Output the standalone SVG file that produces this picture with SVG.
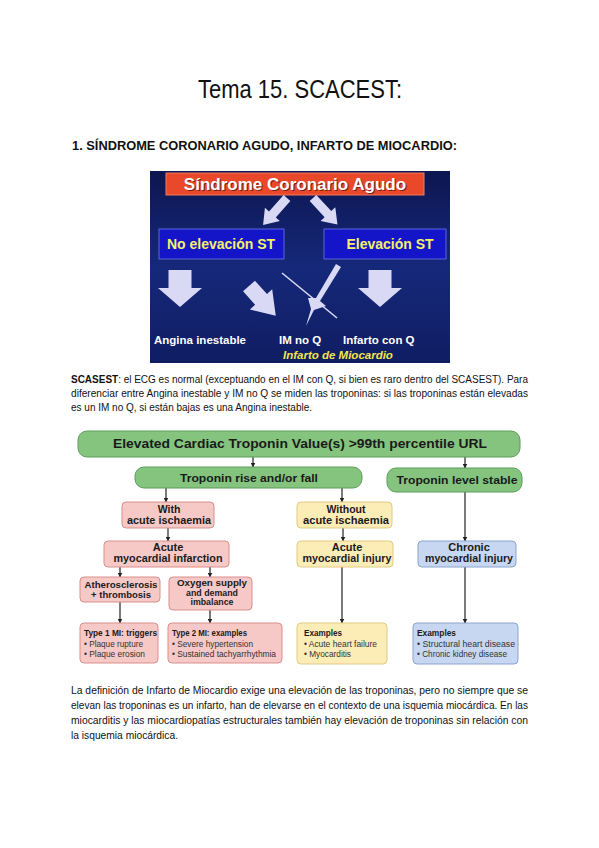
<svg xmlns="http://www.w3.org/2000/svg" width="599" height="848" viewBox="0 0 599 848">
<defs>
<style>
.body{font-family:"Liberation Sans",Arial,sans-serif;font-size:10px;fill:#111}
.fc{font-family:"Liberation Sans",Arial,sans-serif;font-weight:bold;fill:#1a1a1a;text-anchor:middle}
.ex{font-family:"Liberation Sans",Arial,sans-serif;font-size:8.5px;fill:#333}
.exb{font-weight:bold;fill:#1a1a1a}
.green{fill:#84c47e;stroke:#5c9d5a;stroke-width:1}
.pink{fill:#f6c8c6;stroke:#d98f8c;stroke-width:1}
.yel{fill:#fcecb6;stroke:#e0cb84;stroke-width:1}
.blu{fill:#c8d7f1;stroke:#8ba4cd;stroke-width:1}
.con{stroke:#222;stroke-width:1.2;fill:none}
.bl{fill:#1414c8;stroke:#5a66d8;stroke-width:1}
.bt{font-family:"Liberation Sans",Arial,sans-serif;font-weight:bold}
.arr{fill:#d9d9f6}
</style>
<marker id="ah" viewBox="0 0 10 10" refX="9" refY="5" markerWidth="5" markerHeight="5" orient="auto" markerUnits="userSpaceOnUse">
<path d="M0,0 L10,5 L0,10 z" fill="#222"/>
</marker>
<linearGradient id="bg" x1="0" y1="0" x2="0" y2="1">
<stop offset="0" stop-color="#0c1650"/>
<stop offset="0.5" stop-color="#16287a"/>
<stop offset="1" stop-color="#0f1d62"/>
</linearGradient>
</defs>
<rect width="599" height="848" fill="#fff"/>

<text x="198" y="98" font-family="Liberation Sans,Arial,sans-serif" font-size="25" fill="#111" textLength="204" lengthAdjust="spacingAndGlyphs">Tema 15. SCACEST:</text>
<text x="72" y="150" font-family="Liberation Sans,Arial,sans-serif" font-size="12.5" font-weight="bold" fill="#111" textLength="385" lengthAdjust="spacingAndGlyphs">1. SÍNDROME CORONARIO AGUDO, INFARTO DE MIOCARDIO:</text>

<g id="sca-image">
<rect x="150" y="171" width="300" height="192" fill="url(#bg)"/>
<rect x="166" y="173" width="258" height="22" fill="#e9482b" stroke="#f27a5e" stroke-width="1"/>
<text class="bt" x="296" y="191" font-size="17" fill="#000" opacity="0.5" text-anchor="middle">Síndrome Coronario Agudo</text>
<text class="bt" x="295" y="190" font-size="17" fill="#fff" text-anchor="middle">Síndrome Coronario Agudo</text>
<polygon class="arr" transform="translate(287,198) rotate(41.6)" points="-4.5,0 4.5,0 4.5,22 10,22 0,36 -10,22 -4.5,22"/>
<polygon class="arr" transform="translate(313,198) rotate(-42.8)" points="-4.5,0 4.5,0 4.5,22 10,22 0,36 -10,22 -4.5,22"/>
<rect class="bl" x="159" y="229" width="125" height="30"/>
<text class="bt" x="221" y="249" font-size="14" fill="#f4f06a" text-anchor="middle">No elevación ST</text>
<rect class="bl" x="324" y="229" width="122" height="30"/>
<text class="bt" x="390" y="249" font-size="14" fill="#f4f06a" text-anchor="middle">Elevación ST</text>
<polygon class="arr" transform="translate(180,270)" points="-11.5,0 11.5,0 11.5,18 22,18 0,37 -22,18 -11.5,18"/>
<polygon class="arr" transform="translate(380,270)" points="-11.5,0 11.5,0 11.5,18 22,18 0,37 -22,18 -11.5,18"/>
<polygon class="arr" transform="translate(249,286) rotate(-42)" points="-8,0 8,0 8,18 15,18 0,40 -15,18 -8,18"/>
<line x1="282" y1="273" x2="337" y2="318" stroke="#d9d9f6" stroke-width="1.6"/>
<polygon class="arr" points="336,264 341,267 320,301 326,306 314,310 306,326 311,309 308,298 316,298"/>
<text class="bt" x="154" y="344" font-size="11.5" fill="#fff">Angina inestable</text>
<text class="bt" x="279" y="344" font-size="11.5" fill="#fff">IM no Q</text>
<text class="bt" x="343" y="344" font-size="11.5" fill="#fff">Infarto con Q</text>
<text class="bt" x="283" y="359" font-size="11.5" font-style="italic" fill="#f4e64a">Infarto de Miocardio</text>
</g>

<g id="para1" class="body">
<text x="71" y="383" textLength="457" lengthAdjust="spacingAndGlyphs"><tspan font-weight="bold">SCASEST</tspan>: el ECG es normal (exceptuando en el IM con Q, si bien es raro dentro del SCASEST). Para</text>
<text x="71" y="397" textLength="457" lengthAdjust="spacingAndGlyphs">diferenciar entre Angina inestable y IM no Q se miden las troponinas: si las troponinas están elevadas</text>
<text x="71" y="411" textLength="241" lengthAdjust="spacingAndGlyphs">es un IM no Q, si están bajas es una Angina inestable.</text>
</g>

<g id="connectors">
<line class="con" x1="253" y1="457" x2="253" y2="467" marker-end="url(#ah)"/>
<line class="con" x1="465" y1="457" x2="465" y2="468" marker-end="url(#ah)"/>
<line class="con" x1="166" y1="488" x2="166" y2="502" marker-end="url(#ah)"/>
<line class="con" x1="342" y1="488" x2="342" y2="502" marker-end="url(#ah)"/>
<line class="con" x1="465" y1="492" x2="465" y2="541" marker-end="url(#ah)"/>
<line class="con" x1="168" y1="528" x2="168" y2="541" marker-end="url(#ah)"/>
<line class="con" x1="343" y1="528" x2="343" y2="541" marker-end="url(#ah)"/>
<line class="con" x1="120" y1="567" x2="120" y2="577" marker-end="url(#ah)"/>
<line class="con" x1="210" y1="567" x2="210" y2="577" marker-end="url(#ah)"/>
<line class="con" x1="120" y1="602" x2="120" y2="623" marker-end="url(#ah)"/>
<line class="con" x1="210" y1="610" x2="210" y2="623" marker-end="url(#ah)"/>
<line class="con" x1="342" y1="567" x2="342" y2="623" marker-end="url(#ah)"/>
<line class="con" x1="465" y1="567" x2="465" y2="623" marker-end="url(#ah)"/>
</g>

<g id="n-elevated">
<rect class="green" x="78" y="431" width="442" height="26" rx="9"/>
<text class="fc" x="300" y="448" font-size="12.5" textLength="374" lengthAdjust="spacingAndGlyphs">Elevated Cardiac Troponin Value(s) &gt;99th percentile URL</text>
</g>
<g id="n-rise">
<rect class="green" x="135" y="467" width="227" height="21" rx="9"/>
<text class="fc" x="249" y="482" font-size="11.5" textLength="138" lengthAdjust="spacingAndGlyphs">Troponin rise and/or fall</text>
</g>
<g id="n-stable">
<rect class="green" x="387" y="468" width="135" height="24" rx="9"/>
<text class="fc" x="457" y="484" font-size="11.5" textLength="121" lengthAdjust="spacingAndGlyphs">Troponin level stable</text>
</g>
<g id="n-with">
<rect class="pink" x="122" y="502" width="92" height="26" rx="4"/>
<text class="fc" x="169" y="513" font-size="10.5">With</text>
<text class="fc" x="169" y="524" font-size="10.5" textLength="84" lengthAdjust="spacingAndGlyphs">acute ischaemia</text>
</g>
<g id="n-without">
<rect class="yel" x="297" y="502" width="95" height="26" rx="4"/>
<text class="fc" x="346" y="513" font-size="10.5">Without</text>
<text class="fc" x="346" y="524" font-size="10.5" textLength="86" lengthAdjust="spacingAndGlyphs">acute ischaemia</text>
</g>
<g id="n-ami">
<rect class="pink" x="104" y="541" width="125" height="26" rx="4"/>
<text class="fc" x="168" y="551" font-size="11">Acute</text>
<text class="fc" x="168" y="562" font-size="11" textLength="109" lengthAdjust="spacingAndGlyphs">myocardial infarction</text>
</g>
<g id="n-injury">
<rect class="yel" x="297" y="541" width="96" height="26" rx="4"/>
<text class="fc" x="347" y="551" font-size="11">Acute</text>
<text class="fc" x="347" y="562" font-size="11" textLength="89" lengthAdjust="spacingAndGlyphs">myocardial injury</text>
</g>
<g id="n-chronic">
<rect class="blu" x="418" y="541" width="98" height="26" rx="4"/>
<text class="fc" x="469" y="551" font-size="11">Chronic</text>
<text class="fc" x="469" y="562" font-size="11" textLength="88" lengthAdjust="spacingAndGlyphs">myocardial injury</text>
</g>
<g id="n-athero">
<rect class="pink" x="80" y="577" width="80" height="25" rx="4"/>
<text class="fc" x="121" y="588" font-size="9.5" textLength="73" lengthAdjust="spacingAndGlyphs">Atherosclerosis</text>
<text class="fc" x="121" y="598" font-size="9.5">+ thrombosis</text>
</g>
<g id="n-oxygen">
<rect class="pink" x="169" y="577" width="83" height="33" rx="4"/>
<text class="fc" x="212" y="586" font-size="8.8" textLength="70" lengthAdjust="spacingAndGlyphs">Oxygen supply</text>
<text class="fc" x="212" y="595.5" font-size="8.8">and demand</text>
<text class="fc" x="212" y="605" font-size="8.8">imbalance</text>
</g>
<g id="n-type1">
<rect class="pink" x="80" y="623" width="78" height="40" rx="4"/>
<text class="ex" x="84" y="636" textLength="73" lengthAdjust="spacingAndGlyphs"><tspan class="exb">Type 1 MI: triggers</tspan></text>
<text class="ex" x="84" y="647" textLength="59" lengthAdjust="spacingAndGlyphs">• Plaque rupture</text>
<text class="ex" x="84" y="657" textLength="61" lengthAdjust="spacingAndGlyphs">• Plaque erosion</text>
</g>
<g id="n-type2">
<rect class="pink" x="168" y="623" width="114" height="40" rx="4"/>
<text class="ex" x="172" y="636" textLength="75" lengthAdjust="spacingAndGlyphs"><tspan class="exb">Type 2 MI: examples</tspan></text>
<text class="ex" x="172" y="647" textLength="81" lengthAdjust="spacingAndGlyphs">• Severe hypertension</text>
<text class="ex" x="172" y="657" textLength="104" lengthAdjust="spacingAndGlyphs">• Sustained tachyarrhythmia</text>
</g>
<g id="n-ex-yellow">
<rect class="yel" x="297" y="623" width="90" height="41" rx="4"/>
<text class="ex" x="304" y="636" textLength="38" lengthAdjust="spacingAndGlyphs"><tspan class="exb">Examples</tspan></text>
<text class="ex" x="304" y="647" textLength="73" lengthAdjust="spacingAndGlyphs">• Acute heart failure</text>
<text class="ex" x="304" y="657" textLength="47" lengthAdjust="spacingAndGlyphs">• Myocarditis</text>
</g>
<g id="n-ex-blue">
<rect class="blu" x="413" y="623" width="105" height="41" rx="4"/>
<text class="ex" x="417" y="636" textLength="39" lengthAdjust="spacingAndGlyphs"><tspan class="exb">Examples</tspan></text>
<text class="ex" x="417" y="647" textLength="98" lengthAdjust="spacingAndGlyphs">• Structural heart disease</text>
<text class="ex" x="417" y="657" textLength="90" lengthAdjust="spacingAndGlyphs">• Chronic kidney disease</text>
</g>

<g id="para2" class="body">
<text x="71" y="694" textLength="457" lengthAdjust="spacingAndGlyphs">La definición de Infarto de Miocardio exige una elevación de las troponinas, pero no siempre que se</text>
<text x="71" y="709" textLength="457" lengthAdjust="spacingAndGlyphs">elevan las troponinas es un infarto, han de elevarse en el contexto de una isquemia miocárdica. En las</text>
<text x="71" y="724" textLength="457" lengthAdjust="spacingAndGlyphs">miocarditis y las miocardiopatías estructurales también hay elevación de troponinas sin relación con</text>
<text x="71" y="739" textLength="107" lengthAdjust="spacingAndGlyphs">la isquemia miocárdica.</text>
</g>
</svg>
